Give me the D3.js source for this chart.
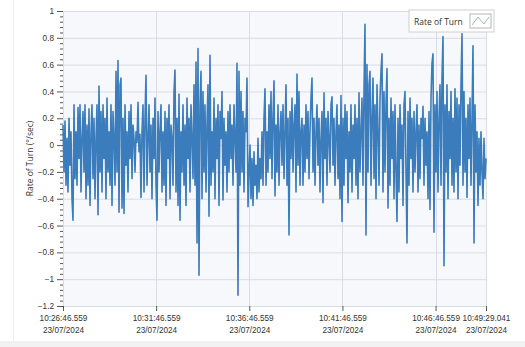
<!DOCTYPE html>
<html>
<head>
<meta charset="utf-8">
<script src="https://cdn.jsdelivr.net/npm/d3@7"></script>
<style>
  body { margin: 0; background: #fff; }
  svg { display: block; font-family: 'Open Sans', 'Noto Sans', sans-serif; }
  .axis text { fill: #333; font-size: 8.2px; }
  .axis path, .axis line { stroke: #555; }
</style>
</head>
<body>
<div id="chart"></div>
<script>
// time range of the record
const startTime = '2024-07-23T10:26:46.559';
const endTime = '2024-07-23T10:49:29.041';
const xTicks = ['2024-07-23T10:26:46.559', '2024-07-23T10:31:46.559', '2024-07-23T10:36:46.559',
  '2024-07-23T10:41:46.559', '2024-07-23T10:46:46.559', '2024-07-23T10:49:29.041'];
const yTicks = [-1.2, -1, -0.8, -0.6, -0.4, -0.2, 0, 0.2, 0.4, 0.6, 0.8, 1];
const seriesName = 'Rate of Turn';

// rate of turn (deg/sec), evenly sampled between startTime and endTime
const rateOfTurn = [
  0.15, -0.2, 0.18, -0.3, 0.05, -0.35, 0.2, -0.15, 0.1, -0.4,
  -0.56, 0.3, -0.25, 0.1, -0.3, 0.28, -0.1, 0.3, -0.35, 0.05,
  0.25, -0.2, 0.3, -0.4, 0.15, -0.3, 0.27, -0.45, 0.1, 0.3,
  -0.25, 0.2, -0.4, 0.05, 0.3, -0.52, 0.44, -0.2, 0.25, -0.35,
  0.3, -0.1, 0.2, -0.4, 0.35, -0.2, 0.1, -0.3, 0.3, -0.45,
  0.25, 0.05, -0.3, 0.55, -0.2, 0.63, -0.5, 0.45, 0.5, -0.47,
  0.2, -0.51, 0.3, -0.15, 0.1, -0.35, 0.25, -0.1, 0.3, -0.25,
  0.15, 0.05, -0.2, 0.1, 0.02, 0.32, -0.05, 0.08, -0.39, 0.1,
  0.3, -0.35, 0.2, 0.52, -0.3, 0.05, 0.3, -0.2, 0.15, -0.4,
  0.2, -0.1, 0.35, -0.3, -0.56, 0.25, -0.2, 0.1, 0.3, -0.35,
  0.1, -0.3, 0.25, -0.45, 0.2, -0.1, 0.3, -0.4, 0.15, 0.05,
  -0.3, 0.4, 0.56, -0.35, 0.2, -0.45, 0.38, -0.56, 0.1, -0.2,
  0.3, -0.3, 0.15, -0.45, 0.35, -0.1, 0.2, -0.35, 0.3, 0.05,
  -0.25, 0.45, -0.3, 0.62, -0.73, 0.72, -0.97, 0.3, 0.55, -0.4,
  0.4, -0.2, 0.3, -0.35, 0.15, 0.45, -0.53, 0.67, -0.3, 0.1,
  -0.2, 0.35, -0.4, 0.2, -0.1, 0.3, -0.45, 0.25, 0.05, 0.4,
  -0.41, 0.2, -0.15, 0.1, -0.35, 0.25, -0.2, 0.3, -0.1, 0.15,
  -0.3, 0.3, 0.05, -0.2, 0.61, -1.12, 0.55, -0.3, 0.4, -0.2,
  0.25, -0.35, 0.2, 0.1, 0.5, -0.46, -0.2, 0.0, -0.4, -0.1,
  -0.45, -0.05, -0.3, -0.15, -0.4, 0.05, -0.35, -0.1, -0.25, 0.1,
  -0.3, 0.2, 0.42, -0.3, 0.1, -0.2, 0.3, -0.1, 0.4, -0.25,
  0.2, 0.48, -0.38, 0.15, -0.2, 0.3, -0.3, 0.1, 0.25, -0.15,
  0.3, -0.25, 0.1, 0.45, -0.3, 0.2, -0.67, 0.25, -0.1, 0.35,
  -0.2, 0.15, 0.3, -0.35, 0.53, -0.15, 0.4, -0.3, 0.1, 0.2,
  -0.3, 0.15, -0.2, 0.3, -0.1, 0.25, -0.25, 0.1, 0.35, 0.5,
  -0.2, 0.2, -0.3, 0.1, 0.3, -0.15, 0.2, -0.35, 0.05, 0.25,
  -0.43, 0.39, -0.1, 0.2, -0.3, 0.25, 0.05, -0.2, 0.3, 0.36,
  -0.15, 0.2, -0.3, 0.1, 0.3, -0.25, 0.15, -0.4, 0.37, -0.57,
  0.2, -0.3, 0.3, -0.1, 0.25, -0.43, 0.1, -0.2, 0.3, -0.35,
  0.15, -0.1, 0.3, -0.3, 0.2, -0.4, 0.39, -0.2, 0.1, 0.35,
  -0.3, 0.4, 0.9, -0.67, 0.6, -0.2, 0.45, 0.55, -0.3, 0.2,
  0.5, -0.25, 0.3, -0.4, 0.45, 0.1, -0.3, 0.35, 0.55, 0.68,
  -0.35, 0.4, -0.2, 0.3, 0.57, -0.47, 0.2, -0.3, 0.35, -0.1,
  0.25, -0.4, 0.3, -0.2, -0.57, 0.2, -0.35, 0.3, -0.1, 0.15,
  -0.45, 0.3, 0.4, -0.2, -0.73, 0.25, -0.3, 0.35, -0.1, 0.2,
  -0.35, 0.25, -0.2, 0.1, 0.3, -0.35, 0.15, -0.25, 0.2, 0.05,
  0.29, -0.3, 0.2, -0.15, 0.1, -0.4, 0.25, -0.48, 0.35, 0.61,
  0.68, -0.65, 0.3, -0.2, 0.4, -0.35, 0.2, 0.45, -0.3, 0.5,
  0.81, -0.9, 0.3, -0.2, 0.45, -0.4, 0.25, -0.1, 0.4, -0.3,
  0.2, -0.35, 0.42, -0.2, 0.35, -0.4, 0.3, -0.15, 0.45, 0.83,
  -0.3, 0.4, -0.2, 0.2, -0.39, 0.3, -0.1, 0.35, -0.3, 0.2,
  0.74, -0.73, 0.3, -0.2, 0.1, -0.45, 0.05, -0.3, 0.1, -0.2,
  -0.4, 0.05, -0.25, -0.1
];

const W = 525, H = 347;
const margin = { top: 11, right: 39, bottom: 41, left: 63 };
const width = W - margin.left - margin.right;
const height = H - margin.top - margin.bottom;

const parseTime = d3.timeParse('%Y-%m-%dT%H:%M:%S.%L');
const t0 = parseTime(startTime), t1 = parseTime(endTime);
const step = (t1 - t0) / (rateOfTurn.length - 1);
const data = rateOfTurn.map((v, i) => ({ t: new Date(+t0 + i * step), v }));

const svg = d3.select('#chart').append('svg')
  .attr('width', W)
  .attr('height', H);

// panel frame like the screenshot
svg.append('rect').attr('x', 0).attr('y', 341).attr('width', W).attr('height', H - 341).attr('fill', '#f2f2f2');
svg.append('line').attr('x1', 13.5).attr('x2', 13.5).attr('y1', 0).attr('y2', 341).attr('stroke', '#ececec');

const chart = svg.append('g')
  .attr('transform', `translate(${margin.left},${margin.top})`);

const x = d3.scaleTime().domain([t0, t1]).range([0, width]);
const y = d3.scaleLinear().domain([-1.2, 1]).range([height, 0]);

chart.append('rect')
  .attr('width', width).attr('height', height)
  .attr('fill', '#f6f8fb');

// grids
chart.append('g').selectAll('line')
  .data(yTicks)
  .enter().append('line')
  .attr('x1', 0).attr('x2', width)
  .attr('y1', d => y(d) + 0.5).attr('y2', d => y(d) + 0.5)
  .attr('stroke', '#d9dde3');

const xTickDates = xTicks.map(parseTime);
chart.append('g').selectAll('line')
  .data(xTickDates)
  .enter().append('line')
  .attr('x1', d => Math.round(x(d)) + 0.5).attr('x2', d => Math.round(x(d)) + 0.5)
  .attr('y1', 0).attr('y2', height)
  .attr('stroke', '#d9dde3');

// series
const line = d3.line()
  .x(d => x(d.t))
  .y(d => y(d.v));

chart.append('path')
  .datum(data)
  .attr('fill', 'none')
  .attr('stroke', '#3a7cbc')
  .attr('stroke-width', 1.6)
  .attr('stroke-linejoin', 'round')
  .attr('d', line);

// axes
const yaxis = d3.axisLeft(y)
  .tickValues(yTicks)
  .tickSize(6)
  .tickSizeOuter(0)
  .tickFormat(d3.format('~g'));

const yAxisG = chart.append('g')
  .attr('class', 'y axis')
  .call(yaxis);
yAxisG.select('.domain').remove();

// minor ticks on y
const minor = d3.range(-1.2, 1.0001, 0.04).filter(v => Math.abs(Math.round(v * 5) - v * 5) > 0.01);
chart.append('g').selectAll('line')
  .data(minor)
  .enter().append('line')
  .attr('x1', -3).attr('x2', 0)
  .attr('y1', d => y(d) + 0.5).attr('y2', d => y(d) + 0.5)
  .attr('stroke', '#555');

const fmtTime = d3.timeFormat('%H:%M:%S.%L');
const fmtDate = d3.timeFormat('%d/%m/%Y');
const xaxis = d3.axisBottom(x)
  .tickValues(xTickDates)
  .tickSize(5)
  .tickSizeOuter(0)
  .tickFormat('');

const xAxisG = chart.append('g')
  .attr('class', 'x axis')
  .attr('transform', `translate(0,${height})`)
  .call(xaxis);
xAxisG.select('.domain').remove();
xAxisG.selectAll('.tick').each(function (d) {
  const g = d3.select(this);
  g.append('text').attr('y', 15).attr('text-anchor', 'middle').text(fmtTime(d));
  g.append('text').attr('y', 27).attr('text-anchor', 'middle').text(fmtDate(d));
});

// y title
chart.append('text')
  .attr('transform', `translate(${-30},${height / 2}) rotate(-90)`)
  .attr('text-anchor', 'middle')
  .style('font-size', '8.5px')
  .attr('fill', '#333')
  .text('Rate of Turn (°/sec)');

// legend
const legend = svg.append('g').attr('transform', 'translate(409,10)');
legend.append('rect')
  .attr('width', 85).attr('height', 22)
  .attr('fill', '#fff').attr('stroke', '#cfcfcf');
legend.append('text')
  .attr('x', 5).attr('y', 14.5)
  .style('font-size', '8.5px')
  .attr('fill', '#333')
  .text(seriesName);
legend.append('rect')
  .attr('x', 61).attr('y', 4).attr('width', 21).attr('height', 14)
  .attr('fill', '#fff').attr('stroke', '#b5b5b5');
legend.append('path')
  .attr('d', 'M63,15 L69,7 L75,14 L80,7')
  .attr('fill', 'none').attr('stroke', '#9fb6cc').attr('stroke-width', 1);
</script>
</body>
</html>
